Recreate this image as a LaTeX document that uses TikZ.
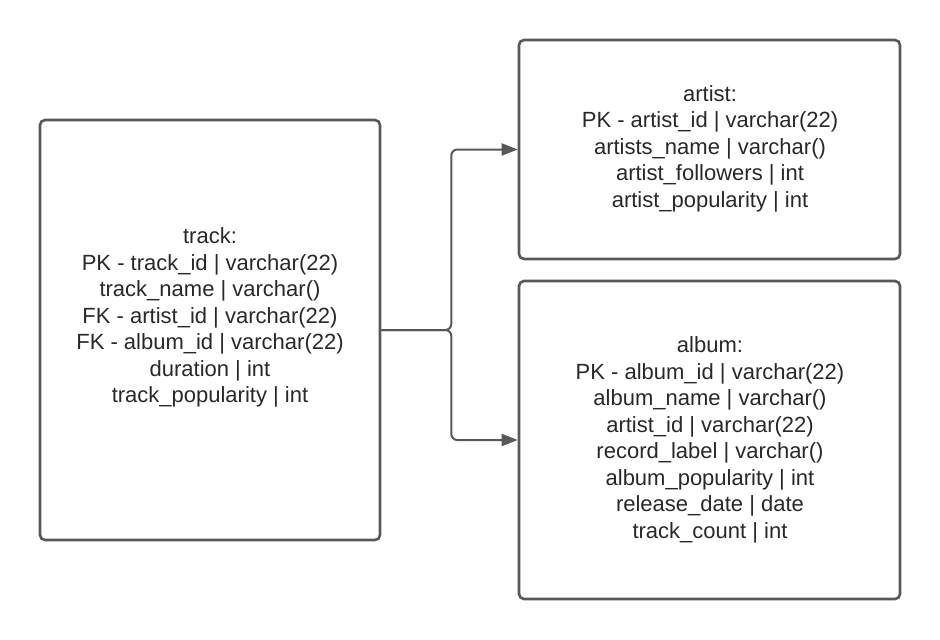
\documentclass[tikz,border=0pt]{standalone}
\usepackage{fontspec}
\setmainfont{Liberation Sans}
\usetikzlibrary{arrows.meta,positioning}
\definecolor{edgegray}{RGB}{88,88,88}
\definecolor{textgray}{RGB}{40,40,40}

\begin{document}
\begin{tikzpicture}[
      x=1pt,y=-1pt,
      table/.style={draw=edgegray, line width=2.6pt, rounded corners=5pt, inner sep=0pt},
      fields/.style={align=center, text=textgray, font=\fontsize{22}{26.5}\selectfont},
      link/.style={draw=edgegray, line width=2pt, rounded corners=6pt, -{Triangle[length=16pt,width=12pt]}}
    ]
      \useasboundingbox (0,0) rectangle (940,640);
      % tables
      \node[table, minimum width=340pt, minimum height=420pt] (track) at (210,330) {};
      \node[table, minimum width=381pt, minimum height=219pt] (artist) at (709.5,149.5) {};
      \node[table, minimum width=381pt, minimum height=318pt] (album) at (709.5,440) {};
      % table contents
      \node[fields] (tracktext) at (210,317.5) {track:\\PK - track\_id | varchar(22)\\track\_name | varchar()\\FK - artist\_id | varchar(22)\\FK - album\_id | varchar(22)\\duration | int\\track\_popularity | int};
      \node[fields] (artisttext) at (710,148.5) {artist:\\PK - artist\_id | varchar(22)\\artists\_name | varchar()\\artist\_followers | int\\artist\_popularity | int};
      \node[fields] (albumtext) at (710,440) {album:\\PK - album\_id | varchar(22)\\album\_name | varchar()\\artist\_id | varchar(22)\\record\_label | varchar()\\album\_popularity | int\\release\_date | date\\track\_count | int};
      % links
      \draw[link] (track.east) -- ++(70,0) |- (artist.west);
      \draw[link] (track.east) -- ++(70,0) |- (album.west);
    \end{tikzpicture}
\end{document}
